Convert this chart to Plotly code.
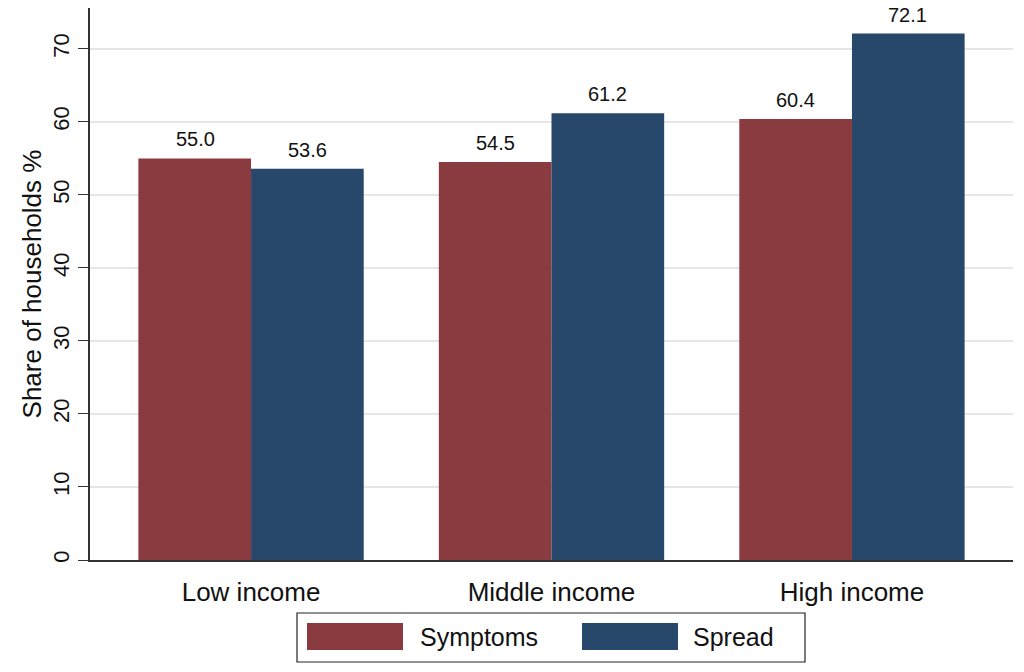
import plotly.graph_objects as go

categories = ["Low income", "Middle income", "High income"]
symptoms = [55.0, 54.5, 60.4]
spread = [53.6, 61.2, 72.1]
series_names = ["Symptoms", "Spread"]
colors = ["#8A3B3F", "#27476B"]
y_ticks = [0, 10, 20, 30, 40, 50, 60, 70]

FONT = "Liberation Sans, Arial, Helvetica, sans-serif"

fig = go.Figure()
for name, vals, col in zip(series_names, [symptoms, spread], colors):
    fig.add_trace(go.Bar(x=categories, y=vals, name=name, marker_color=col,
                         marker_line_width=0, showlegend=False))

annotations = []
for vals, shift in zip([symptoms, spread], [-56, 56]):
    for c, v in zip(categories, vals):
        annotations.append(dict(x=c, y=v, text=f"{v:.1f}", showarrow=False,
                                xref="x", yref="y", xshift=shift, yshift=6,
                                yanchor="bottom", font=dict(size=20, color="#111", family=FONT)))

fig.update_layout(
    width=1024, height=672,
    margin=dict(l=90, r=11, t=8, b=112),
    paper_bgcolor="white", plot_bgcolor="white",
    barmode="group", bargap=0.25, bargroupgap=0,
    font=dict(family=FONT, color="#111"),
    xaxis=dict(range=[-0.536, 2.536], showline=True, linecolor="#333", linewidth=1.5,
               ticks="", tickfont=dict(size=26, family=FONT), ticklabelstandoff=8,
               showgrid=False, zeroline=False),
    yaxis=dict(range=[0, 75.6], tickvals=y_ticks, tickangle=-90, ticks="outside",
               ticklen=10, tickwidth=1.2, tickcolor="#333", showline=True,
               linecolor="#333", linewidth=1.5, showgrid=True, gridcolor="#E6E6E6",
               gridwidth=1.5, zeroline=False, tickfont=dict(size=22, family=FONT),
               ticklabelstandoff=0,
               title=dict(text="Share of households %", font=dict(size=26, family=FONT), standoff=0)),
    annotations=annotations,
)

# legend in pixel space -> paper coords
W = 1024 - 90 - 11
H = 672 - 8 - 112
def px(x):
    return (x - 90) / W
def py(y):
    return (560 - y) / H

shapes = [dict(type="rect", xref="paper", yref="paper", x0=px(297), x1=px(805),
               y0=py(662), y1=py(613), line=dict(color="#222", width=1.2), fillcolor="white")]
for (x0, x1, tx, txt, col) in [(307, 403, 418, series_names[0], colors[0]),
                               (582, 678, 691, series_names[1], colors[1])]:
    shapes.append(dict(type="rect", xref="paper", yref="paper", x0=px(x0), x1=px(x1),
                       y0=py(650), y1=py(623), line=dict(width=0), fillcolor=col))
    fig.add_annotation(x=px(tx), y=py(637), xref="paper", yref="paper", text=txt,
                       showarrow=False, xanchor="left", yanchor="middle",
                       font=dict(size=25, family=FONT, color="#111"))
fig.update_layout(shapes=shapes)

fig.write_html("out.html", config={"displayModeBar": False},
               post_script="document.body.style.margin='0';")
